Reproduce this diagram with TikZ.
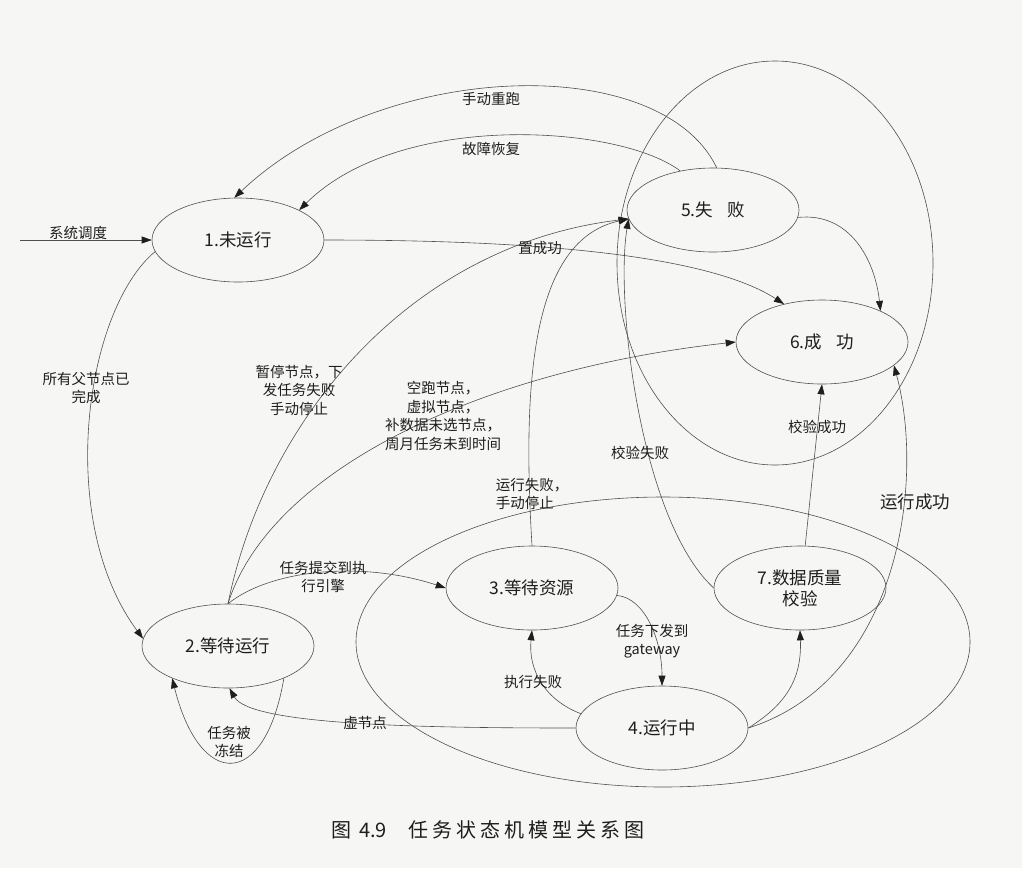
\documentclass[tikz,border=0pt]{standalone}
\usepackage{fontspec}
\newfontfamily\cjk{Noto Sans CJK SC}
\newfontfamily\capfont[LetterSpace=20]{Noto Sans CJK SC}
\usepackage{tikz}
\usetikzlibrary{shapes.geometric, arrows.meta}
\definecolor{PaperBg}{RGB}{246,246,244}
\definecolor{InkGray}{RGB}{30,30,30}
\definecolor{LineGray}{RGB}{80,80,80}

\begin{document}
\begin{tikzpicture}[x=1pt, y=-1pt,
    state/.style={ellipse, draw=LineGray, line width=0.6pt, fill=PaperBg,
                  minimum width=172pt, minimum height=84pt, inner sep=0pt,
                  align=center, text=InkGray, font=\cjk\fontsize{17.5}{21}\selectfont},
    grp/.style={ellipse, draw=LineGray, line width=0.6pt, inner sep=0pt},
    arr/.style={-{Triangle[length=10pt, width=7pt, color=InkGray]}, draw=LineGray, line width=0.6pt},
    lbl/.style={align=center, text=InkGray, inner sep=1pt,
                font=\cjk\fontsize{14.5}{18.5}\selectfont}
  ]
  \fill[PaperBg] (0,0) rectangle (1022,868);
  \useasboundingbox (0,0) rectangle (1022,868);

  % groups
  \node[grp, minimum width=316pt, minimum height=404pt] (fin) at (775,263) {};
  \node[grp, minimum width=614pt, minimum height=290pt] (eng) at (663,642) {};

  % states
  \node[state] (n1) at (238,240) {1.未运行};
  \node[state] (n2) at (228,646) {2.等待运行};
  \node[state] (n3) at (532,588) {3.等待资源};
  \node[state] (n4) at (662,728) {4.运行中};
  \node[state] (n5) at (713,210) {5.失\hspace{0.8em}败};
  \node[state] (n6) at (822,342) {6.成\hspace{0.8em}功};
  \node[state] (n7) at (800,588) {7.数据质量\\校验};

  \coordinate (sys) at (20,240);

  % transitions
  \draw[arr] (sys) -- (n1.west);
  \draw[arr] (n1.188) .. controls (85,310) and (55,520) .. (n2.175);
  \draw[arr] (n5.85) .. controls (660,50) and (380,60) .. (n1.95);
  \draw[arr] (n5.130) .. controls (620,125) and (400,110) .. (n1.26);
  \draw[arr] (n1.east) .. controls (500,240) and (700,250) .. (n6.135);
  \draw[arr] (n5.-5) .. controls (850,212) and (875,260) .. (n6.28);
  \draw[arr] (n2.north) .. controls (265,420) and (410,245) .. (n5.186);
  \draw[arr] (n2.north) .. controls (270,470) and (480,370) .. (n6.west);
  \draw[arr] (n2.north) .. controls (270,570) and (360,560) .. (n3.west);
  \draw[arr] (n3.north) .. controls (522,380) and (532,240) .. (n5.186);
  \draw[arr] (n7.west) .. controls (640,520) and (615,300) .. (n5.186);
  \draw[arr] (n3.-5) .. controls (645,598) and (662,640) .. (n4.north);
  \draw[arr] (n4.170) .. controls (545,700) and (528,670) .. (n3.south);
  \draw[arr] (n4.west) .. controls (420,728) and (250,725) .. (n2.-88);
  \draw[arr] (n2.-30) .. controls (265,790) and (200,790) .. (n2.-150);
  \draw[arr] (n4.east) .. controls (785,705) and (802,680) .. (n7.south);
  \draw[arr] (n4.east) .. controls (900,680) and (925,480) .. (n6.-18);
  \draw[arr] (n7.83) -- (n6.south);

  % labels
  \node[lbl] (lsys) at (78,233) {系统调度};
  \node[lbl] (lrerun) at (491,99) {手动重跑};
  \node[lbl] (lrecover) at (491,149) {故障恢复};
  \node[lbl] (lsetok) at (540,248) {置成功};
  \node[lbl] (lparent) at (86,388) {所有父节点已\\完成};
  \node[lbl] (lpause) at (299,390) {暂停节点，下\\发任务失败\\手动停止};
  \node[lbl] (ldry) at (443,416) {空跑节点，\\虚拟节点，\\补数据未选节点，\\周月任务未到时间};
  \node[lbl, align=left] (lrunfail) at (532,494) {运行失败，\\手动停止};
  \node[lbl] (lchkfail) at (640,453) {校验失败};
  \node[lbl] (lchkok) at (817,427) {校验成功};
  \node[lbl, font=\cjk\fontsize{17.5}{21}\selectfont] (lrunok) at (915,502) {运行成功};
  \node[lbl] (lsubmit) at (323,577) {任务提交到执\\行引擎};
  \node[lbl] (lgate) at (652,641) {任务下发到\\gateway};
  \node[lbl] (lexefail) at (533,682) {执行失败};
  \node[lbl] (lvirt) at (365,723) {虚节点};
  \node[lbl] (lfrozen) at (229,742) {任务被\\冻结};

  % caption
  \node[text=InkGray, font=\cjk\fontsize{20}{24}\selectfont] (cap) at (488,830)
        {图\hspace{0.4em}4.9\hspace{1.1em}{\capfont 任务状态机模型关系图}};
\end{tikzpicture}
\end{document}
